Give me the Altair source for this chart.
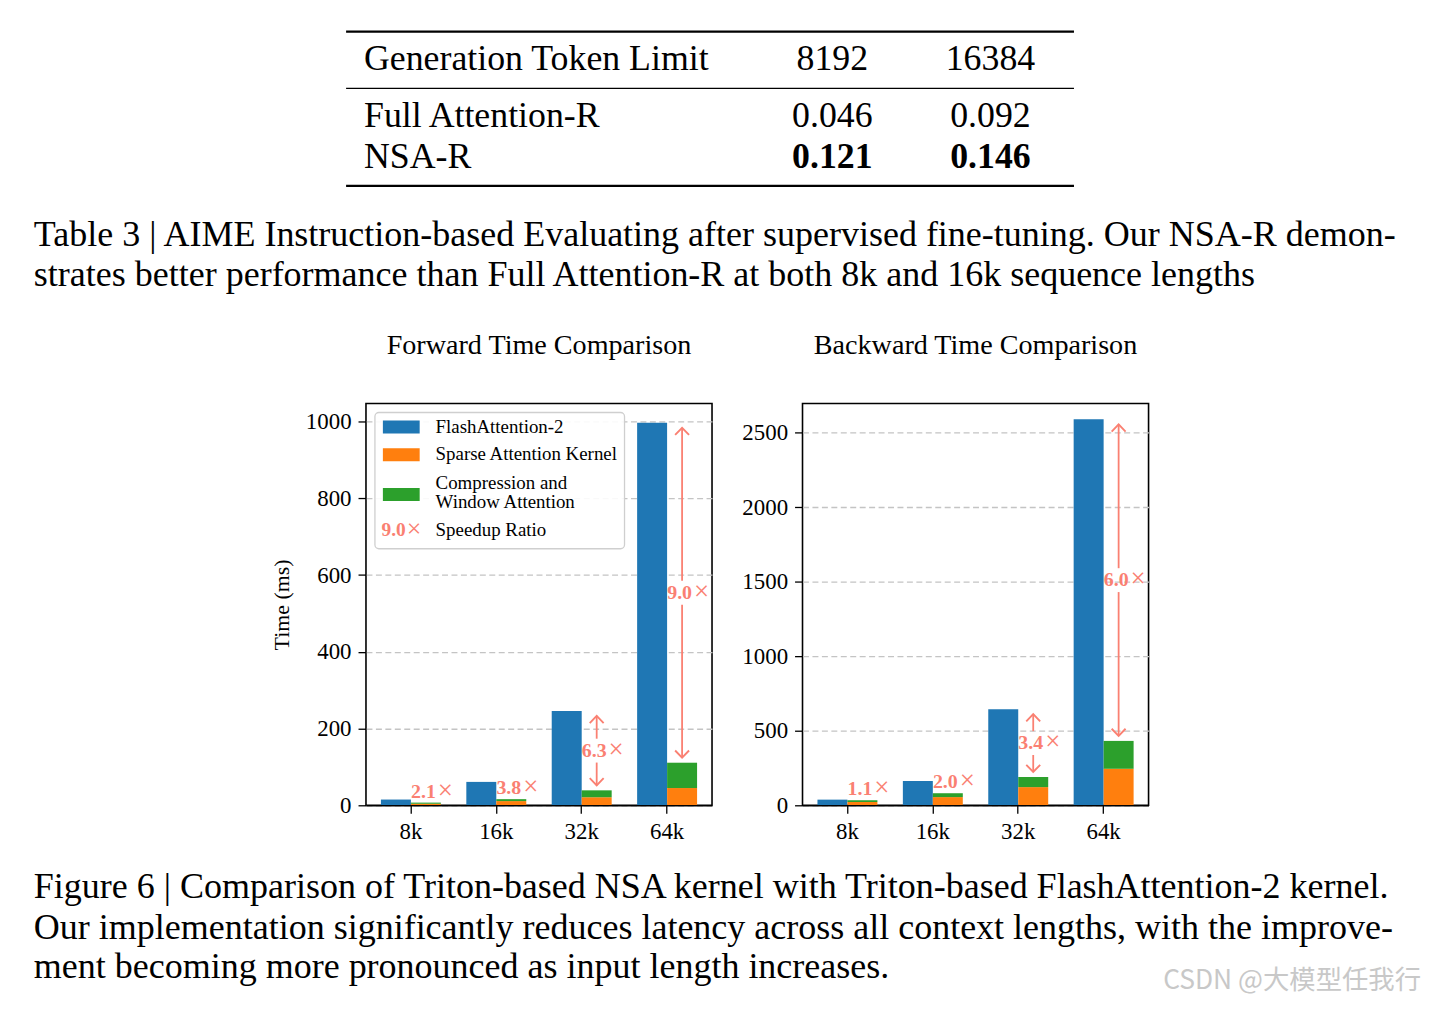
import altair as alt
import pandas as pd

# ---------------- data ----------------
contexts = ["8k", "16k", "32k", "64k"]

fwd_flash = [15, 61, 246, 997]
fwd_sparse = [4, 11, 21, 45]
fwd_cmpwin = [3, 5, 18, 66]
fwd_speedup = ["2.1", "3.8", "6.3", "9.0"]

bwd_flash = [38, 163, 645, 2589]
bwd_sparse = [22, 55, 122, 245]
bwd_cmpwin = [12, 26, 68, 187]
bwd_speedup = ["1.1", "2.0", "3.4", "6.0"]

fwd_ticks = [0, 200, 400, 600, 800, 1000]
bwd_ticks = [0, 500, 1000, 1500, 2000, 2500]
FWD_YMAX = 1047
BWD_YMAX = 2695

series = ["FlashAttention-2", "Sparse Attention Kernel", "Compression and Window Attention"]
series_colors = ["#1f77b4", "#ff7f0e", "#2ca02c"]
legend_lines = [["FlashAttention-2"], ["Sparse Attention Kernel"], ["Compression and", "Window Attention"]]
speedup_legend = ["9.0", "Speedup Ratio"]
TIMES = "×"

table_header = ["Generation Token Limit", "8192", "16384"]
table_rows = ["Full Attention-R", "NSA-R"]
table_8192 = ["0.046", "0.121"]
table_16384 = ["0.092", "0.146"]
table_best = [False, True]

table_caption = [
    "Table 3 | AIME Instruction-based Evaluating after supervised fine-tuning. Our NSA-R demon-",
    "strates better performance than Full Attention-R at both 8k and 16k sequence lengths",
]
figure_caption = [
    "Figure 6 | Comparison of Triton-based NSA kernel with Triton-based FlashAttention-2 kernel.",
    "Our implementation significantly reduces latency across all context lengths, with the improve-",
    "ment becoming more pronounced as input length increases.",
]
watermark = "CSDN @大模型任我行"

# ---------------- styling ----------------
W, H = 348, 404
SALMON = "#fa8072"
SERIF = "Liberation Serif"
DOC_SIZE = 36.2
ONE = pd.DataFrame({"k": [0]})

UP_HEAD = "M-1,1.75L0,0.72L1,1.75"
DN_HEAD = "M-1,-1.75L0,-0.72L1,-1.75"


def text_at(txt, x, y, size, align="left", weight="normal", color="black", font=SERIF, dy=0):
    return alt.Chart(ONE).mark_text(
        text=txt, align=align, baseline="middle", font=font, fontSize=size,
        fontWeight=weight, color=color, dy=dy,
    ).encode(x=alt.value(x), y=alt.value(y))


def hrule(x0, x1, y, sw):
    return alt.Chart(ONE).mark_rule(color="black", strokeWidth=sw).encode(
        x=alt.value(x0), x2=alt.value(x1), y=alt.value(y)
    )


def bar_frame(flash, sparse, cmpwin):
    recs = []
    for c, f, s, w in zip(contexts, flash, sparse, cmpwin):
        recs.append(dict(ctx=c, grp="FA", series=series[0], y0=0, y1=f))
        recs.append(dict(ctx=c, grp="NSA", series=series[1], y0=0, y1=s))
        recs.append(dict(ctx=c, grp="NSA", series=series[2], y0=s, y1=s + w))
    return pd.DataFrame(recs)


def ann_frame(flash, sparse, cmpwin, speed, ymax):
    ppu = H / ymax
    recs = []
    for c, f, s, w, sp in zip(contexts, flash, sparse, cmpwin, speed):
        nsa = s + w
        mid = (f + nsa) / 2
        recs.append(dict(
            ctx=c, grp="NSA", label=sp, times=TIMES, f=f, nsa=nsa, mid=mid,
            arrow=bool((f - nsa) * ppu > 40),
            up0=mid + 12 / ppu, up1=f - 5 / ppu,
            dn0=mid - 12 / ppu, dn1=nsa + 5 / ppu,
        ))
    return pd.DataFrame(recs)


def panel(flash, sparse, cmpwin, speed, ymax, ticks, ytitle, title):
    bars = bar_frame(flash, sparse, cmpwin)
    ann = ann_frame(flash, sparse, cmpwin, speed, ymax)

    xscale = alt.Scale(domain=contexts, paddingInner=0.298, paddingOuter=0.175)
    xaxis = alt.Axis(title=None, labelAngle=0, domain=True, domainColor="black",
                     domainWidth=1.6, zindex=1, labelPadding=7)
    x = alt.X("ctx:N", sort=contexts, scale=xscale, axis=xaxis)
    xo = alt.XOffset("grp:N", scale=alt.Scale(domain=["FA", "NSA"], paddingInner=0, paddingOuter=0))
    yscale = alt.Scale(domain=[0, ymax], nice=False, zero=True)
    yaxis = alt.Axis(values=ticks, title=ytitle, grid=True, gridDash=[6, 3.5],
                     gridColor="#c4c4c4", gridWidth=1.3, domain=False,
                     labelPadding=7, titlePadding=12, format="d")

    def Y(field):
        return alt.Y(field, type="quantitative", scale=yscale, axis=yaxis)

    b = alt.Chart(bars).mark_bar().encode(
        x=x, xOffset=xo, y=Y("y1"), y2="y0:Q",
        color=alt.Color("series:N", scale=alt.Scale(domain=series, range=series_colors), legend=None),
    )
    arr = alt.Chart(ann).transform_filter("datum.arrow")
    low = alt.Chart(ann).transform_filter("!datum.arrow")
    up_rule = arr.mark_rule(color=SALMON, strokeWidth=1.8).encode(x=x, xOffset=xo, y=Y("up0"), y2="up1:Q")
    dn_rule = arr.mark_rule(color=SALMON, strokeWidth=1.8).encode(x=x, xOffset=xo, y=Y("dn0"), y2="dn1:Q")
    up_head = arr.mark_point(shape=UP_HEAD, size=196, color=SALMON, strokeWidth=1.9, filled=False, opacity=1).encode(
        x=x, xOffset=xo, y=Y("f"))
    dn_head = arr.mark_point(shape=DN_HEAD, size=196, color=SALMON, strokeWidth=1.9, filled=False, opacity=1).encode(
        x=x, xOffset=xo, y=Y("nsa"))
    num_style = dict(font=SERIF, fontSize=20, fontWeight="bold", color=SALMON, baseline="middle", align="right")
    x_style = dict(font=SERIF, fontSize=27, fontWeight="normal", color=SALMON, baseline="middle", align="left")
    lbl_mid = arr.mark_text(dx=10, **num_style).encode(x=x, xOffset=xo, y=Y("mid"), text="label:N")
    tim_mid = arr.mark_text(dx=12, dy=-1, **x_style).encode(x=x, xOffset=xo, y=Y("mid"), text="times:N")
    lbl_low = low.mark_text(dx=10, dy=-11, **num_style).encode(x=x, xOffset=xo, y=Y("nsa"), text="label:N")
    tim_low = low.mark_text(dx=12, dy=-12, **x_style).encode(x=x, xOffset=xo, y=Y("nsa"), text="times:N")
    ttl = text_at(title, W / 2, -58, 28.3, align="center")
    return alt.layer(b, up_rule, dn_rule, up_head, dn_head, lbl_mid, tim_mid, lbl_low, tim_low, ttl)


# ---------------- forward panel + page decorations ----------------
fwd_panel = panel(fwd_flash, fwd_sparse, fwd_cmpwin, fwd_speedup, FWD_YMAX, fwd_ticks,
                  "Time (ms)", "Forward Time Comparison")
bwd_panel = panel(bwd_flash, bwd_sparse, bwd_cmpwin, bwd_speedup, BWD_YMAX, bwd_ticks,
                  None, "Backward Time Comparison")

# legend (manual, inside forward panel)
legend_parts = [
    alt.Chart(ONE).mark_rect(fill="white", fillOpacity=0.9, stroke="#cfcfcf", strokeWidth=1.3,
                             cornerRadius=4).encode(
        x=alt.value(9), x2=alt.value(260), y=alt.value(9), y2=alt.value(146))
]
sw_tops = [17, 45, 85]
lab_ys = [[24], [51], [80, 99]]
for name, col, top, lines, ys in zip(series, series_colors, sw_tops, legend_lines, lab_ys):
    legend_parts.append(
        alt.Chart(ONE).mark_rect(fill=col).encode(
            x=alt.value(17), x2=alt.value(54), y=alt.value(top), y2=alt.value(top + 13)))
    for ln, yy in zip(lines, ys):
        legend_parts.append(text_at(ln, 70, yy, 19))
legend_parts.append(text_at(speedup_legend[0], 40, 127, 19.5, align="right", weight="bold", color=SALMON))
legend_parts.append(text_at(TIMES, 41, 127, 26, align="left", color=SALMON, dy=-1))
legend_parts.append(text_at(speedup_legend[1], 70, 127, 19))

# table (cells through point scales)
tbl = pd.DataFrame({"row": table_rows, "8192": table_8192, "16384": table_16384, "best": table_best})
tbl_long = tbl.melt(id_vars=["row", "best"], value_vars=["8192", "16384"], var_name="col", value_name="val")
tx = alt.X("col:N", scale=alt.Scale(type="point", domain=table_header[1:], range=[469, 628], padding=0), axis=None)
ty = alt.Y("row:N", scale=alt.Scale(type="point", domain=table_rows, range=[-289, -248], padding=0), axis=None)
tfont = dict(font=SERIF, fontSize=DOC_SIZE - 0.2, baseline="middle", color="black")
table_layer = alt.layer(
    alt.Chart(tbl).mark_text(align="left", **tfont).encode(x=alt.value(-2), y=ty, text="row:N"),
    alt.Chart(tbl_long).transform_filter("!datum.best").mark_text(align="center", **tfont).encode(
        x=tx, y=ty, text="val:N"),
    alt.Chart(tbl_long).transform_filter("datum.best").mark_text(align="center", fontWeight="bold", **tfont).encode(
        x=tx, y=ty, text="val:N"),
    alt.Chart(pd.DataFrame({"col": table_header[1:]})).mark_text(align="center", **tfont).encode(
        x=tx, y=alt.value(-346), text="col:N"),
    text_at(table_header[0], -2, -346, DOC_SIZE - 0.2),
    hrule(-20, 712, -374, 2.2),
    hrule(-20, 712, -317, 1.3),
    hrule(-20, 712, -219, 2.2),
)

caption_parts = []
for ln, yy in zip(table_caption, [-169, -129]):
    caption_parts.append(text_at(ln, -334, yy, DOC_SIZE))
for ln, yy in zip(figure_caption, [486, 527, 567]):
    caption_parts.append(text_at(ln, -334, yy, DOC_SIZE))
caption_parts.append(text_at(watermark, 1061, 581, 26.5, align="right", color="#c8c8c8",
                             font="Noto Sans CJK SC"))

fwd = alt.layer(fwd_panel, table_layer, *legend_parts, *caption_parts).resolve_scale(
    x="independent", y="independent").properties(width=W, height=H)
bwd = bwd_panel.properties(width=W, height=H)

chart = alt.hconcat(fwd, bwd, spacing=91, bounds="flush").properties(
    padding={"left": 25, "top": 19, "right": 2, "bottom": 2}, background="white"
).configure_view(stroke="black", strokeWidth=1.6).configure_axis(
    labelFont=SERIF, labelFontSize=23, labelColor="black", tickColor="black", tickSize=8,
    tickWidth=1.3, titleFont=SERIF, titleFontSize=22, titleFontWeight="normal", titleColor="black",
)

chart.save("out.html", embed_options={"renderer": "svg", "actions": False})
